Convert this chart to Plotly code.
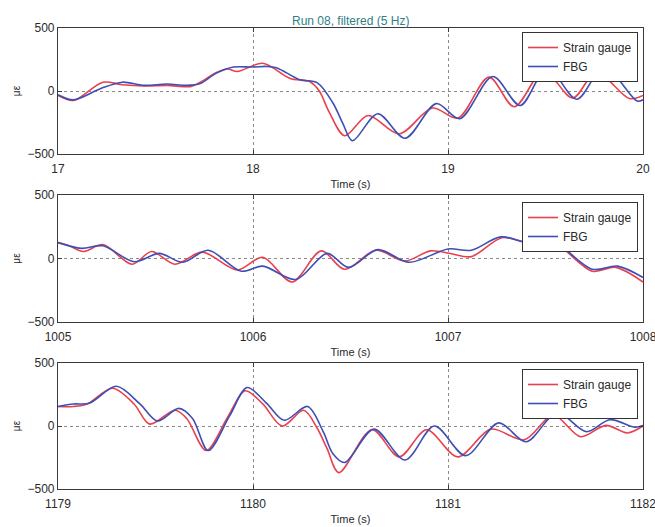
import plotly.graph_objects as go
from plotly.subplots import make_subplots

# ---- data ----
t1_sg = [17.00, 17.08, 17.23, 17.33, 17.44, 17.56, 17.68, 17.73, 17.81, 17.87, 17.92, 18.05, 18.19, 18.29, 18.34, 18.39, 18.47, 18.59, 18.75, 18.92, 19.05, 19.21, 19.34, 19.49, 19.64, 19.76, 19.93, 20.00]
v1_sg = [-35, -75, 70, 50, 40, 45, 35, 70, 145, 175, 155, 220, 100, 75, 0, -165, -355, -195, -340, -135, -215, 110, -125, 160, -55, 150, -60, -35]
t1_fbg = [17.00, 17.08, 17.22, 17.33, 17.44, 17.56, 17.66, 17.73, 17.81, 17.90, 18.00, 18.07, 18.12, 18.24, 18.33, 18.41, 18.46, 18.51, 18.64, 18.78, 18.94, 19.06, 19.23, 19.37, 19.51, 19.66, 19.80, 19.97, 20.00]
v1_fbg = [-30, -70, 20, 70, 45, 55, 45, 60, 140, 190, 190, 195, 185, 90, 65, -95, -255, -395, -180, -375, -100, -220, 115, -115, 185, -65, 190, -80, -70]

t2_sg = [1005.00, 1005.05, 1005.13, 1005.23, 1005.38, 1005.48, 1005.60, 1005.74, 1005.92, 1006.05, 1006.20, 1006.35, 1006.47, 1006.63, 1006.78, 1006.91, 1007.01, 1007.12, 1007.28, 1007.43, 1007.53, 1007.74, 1007.86, 1008.00]
v2_sg = [125, 105, 55, 110, -45, 55, -45, 50, -90, 10, -185, 60, -85, 65, -20, 60, 40, 15, 165, 115, 140, -100, -70, -185]
t2_fbg = [1005.00, 1005.12, 1005.23, 1005.39, 1005.52, 1005.64, 1005.77, 1005.94, 1006.05, 1006.22, 1006.38, 1006.49, 1006.64, 1006.80, 1007.00, 1007.12, 1007.27, 1007.42, 1007.53, 1007.74, 1007.87, 1008.00]
v2_fbg = [125, 80, 100, -25, 40, -30, 65, -100, -60, -165, 40, -70, 70, -30, 75, 65, 170, 120, 145, -85, -60, -150]

t3_sg = [1179.00, 1179.08, 1179.15, 1179.28, 1179.39, 1179.47, 1179.60, 1179.66, 1179.76, 1179.87, 1179.96, 1180.05, 1180.15, 1180.26, 1180.33, 1180.38, 1180.44, 1180.61, 1180.75, 1180.89, 1181.05, 1181.22, 1181.39, 1181.54, 1181.68, 1181.81, 1181.92, 1182.00]
v3_sg = [155, 155, 175, 300, 175, 15, 125, 60, -195, 70, 280, 175, 0, 125, -20, -180, -370, -30, -245, -30, -245, -25, -110, 85, -85, 5, -55, 0]
t3_fbg = [1179.00, 1179.08, 1179.16, 1179.30, 1179.42, 1179.51, 1179.62, 1179.69, 1179.77, 1179.88, 1179.97, 1180.07, 1180.16, 1180.28, 1180.36, 1180.41, 1180.47, 1180.62, 1180.78, 1180.93, 1181.09, 1181.26, 1181.40, 1181.56, 1181.71, 1181.83, 1181.96, 1182.00]
v3_fbg = [155, 175, 180, 315, 175, 40, 140, 60, -195, 80, 305, 180, 45, 155, -45, -220, -290, -25, -270, 0, -235, 25, -125, 105, -45, 50, -10, 5]

x_ranges = [[17, 20], [1005, 1008], [1179, 1182]]
x_ticks = [[17, 18, 19, 20], [1005, 1006, 1007, 1008], [1179, 1180, 1181, 1182]]
y_ticks = [-500, 0, 500]
series_names = ["Strain gauge", "FBG"]
title_text = "Run 08, filtered (5 Hz)"
x_title = "Time (s)"
y_title = "με"

RED = "#e8414e"
BLUE = "#3d4fb5"
FONT = "Liberation Sans, Arial, sans-serif"
AX = "#3a3a3a"
TXT = "#2a2a2a"

fig = make_subplots(rows=3, cols=1)

panels = [(t1_sg, v1_sg, t1_fbg, v1_fbg), (t2_sg, v2_sg, t2_fbg, v2_fbg), (t3_sg, v3_sg, t3_fbg, v3_fbg)]
legend_ids = ["legend", "legend2", "legend3"]
for i, (ts, vs, tf, vf) in enumerate(panels):
    fig.add_trace(go.Scatter(x=ts, y=vs, mode="lines", name=series_names[0],
                             line=dict(color=RED, width=1.6, shape="spline", smoothing=0.9),
                             legend=legend_ids[i]), row=i + 1, col=1)
    fig.add_trace(go.Scatter(x=tf, y=vf, mode="lines", name=series_names[1],
                             line=dict(color=BLUE, width=1.6, shape="spline", smoothing=0.9),
                             legend=legend_ids[i]), row=i + 1, col=1)

# layout geometry (pixels -> paper)
W, H = 655, 527
ml, mr = 58, 12
mt, mb = 28, 38
pw = W - ml - mr
ph = H - mt - mb
def py(p):
    return (H - mb - p) / ph

domains = [[py(154), 1.0], [py(322), py(195)], [0.0, py(363)]]
leg_tops = [32, 202, 369]

for i in range(3):
    xa = "xaxis" if i == 0 else f"xaxis{i+1}"
    ya = "yaxis" if i == 0 else f"yaxis{i+1}"
    fig.layout[xa].update(range=x_ranges[i], tickvals=x_ticks[i], ticktext=[str(v) for v in x_ticks[i]],
                          automargin=False, ticklabeloverflow="allow",
                          showgrid=True, gridcolor="#8a8a8a", griddash="dot", gridwidth=1,
                          showline=True, linecolor=AX, linewidth=1.2, mirror="ticks",
                          ticks="inside", ticklen=4, tickcolor=AX, zeroline=False,
                          ticklabelstandoff=3,
                          tickfont=dict(family=FONT, size=12, color=TXT),
                          title=dict(text=x_title, font=dict(family=FONT, size=11, color=TXT), standoff=5))
    fig.layout[ya].update(range=[-500, 500], tickvals=y_ticks, domain=domains[i],
                          automargin=False, ticklabeloverflow="allow",
                          showgrid=True, gridcolor="#8a8a8a", griddash="dot", gridwidth=1,
                          showline=True, linecolor=AX, linewidth=1.2, mirror="ticks",
                          ticks="inside", ticklen=4, tickcolor=AX, zeroline=False,
                          tickfont=dict(family=FONT, size=12, color=TXT),
                          title=dict(text=y_title, font=dict(family=FONT, size=10, color=TXT), standoff=4))
    leg = dict(x=(638 - ml) / pw, xanchor="right", y=py(leg_tops[i]), yanchor="top",
               bgcolor="white", bordercolor="#333", borderwidth=1,
               font=dict(family=FONT, size=12, color=TXT),
               tracegroupgap=0, itemwidth=30)
    fig.layout[legend_ids[i]] = leg

fig.add_annotation(text=title_text, x=0.5, xref="paper", y=py(12), yref="paper",
                   showarrow=False, font=dict(family=FONT, size=12, color="#2f7f86"))

fig.update_layout(width=W, height=H, margin=dict(l=ml, r=mr, t=mt, b=mb),
                  paper_bgcolor="white", plot_bgcolor="white", showlegend=True)

fig.write_html("out.html")
